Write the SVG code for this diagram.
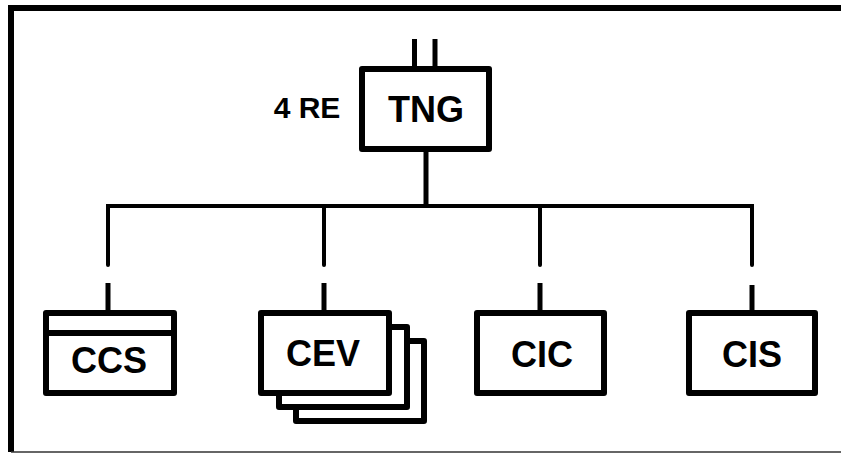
<svg xmlns="http://www.w3.org/2000/svg" width="841" height="455" viewBox="0 0 841 455">
<style>
.box{fill:#fff;stroke:#000;stroke-width:6;stroke-linejoin:round}
.lbl{font-family:"Liberation Sans",Arial,sans-serif;font-weight:bold;font-size:36px;fill:#000;text-anchor:middle}
.wire{stroke:#000;stroke-width:4;stroke-linecap:round;fill:none}
.stub{stroke:#000;stroke-width:5;fill:none}
</style>
<rect x="0" y="0" width="841" height="455" fill="#fff"/>
<g id="frame">
<line x1="8" y1="8" x2="841" y2="8" stroke="#000" stroke-width="6"/>
<line x1="11" y1="5" x2="11" y2="452" stroke="#000" stroke-width="6"/>
<line x1="11" y1="452" x2="841" y2="452" stroke="#333" stroke-width="1.5"/>
</g>
<g id="connectors">
<line class="stub" x1="414.5" y1="39" x2="414.5" y2="67"/>
<line class="stub" x1="435" y1="39" x2="435" y2="67"/>
<line class="stub" x1="426" y1="151" x2="426" y2="206"/>
<polyline class="wire" points="108,265 108,206 752,206 752,265"/>
<line class="wire" x1="324" y1="206" x2="324" y2="265"/>
<line class="wire" x1="540" y1="206" x2="540" y2="265"/>
<line class="stub" x1="108" y1="283" x2="108" y2="312"/>
<line class="stub" x1="324" y1="283" x2="324" y2="312"/>
<line class="stub" x1="540" y1="283" x2="540" y2="312"/>
<line class="stub" x1="752" y1="285" x2="752" y2="312"/>
</g>
<g id="tng">
<rect class="box" x="362" y="69" width="127" height="80"/>
<text class="lbl" x="426" y="122">TNG</text>
<text class="lbl" x="307" y="118" style="font-size:30px">4 RE</text>
</g>
<g id="ccs">
<rect class="box" x="46" y="313" width="128" height="80"/>
<line x1="46" y1="333" x2="174" y2="333" stroke="#000" stroke-width="6"/>
<text class="lbl" x="109" y="373">CCS</text>
</g>
<g id="cev">
<rect class="box" x="296" y="341" width="128" height="80"/>
<rect class="box" x="279" y="327" width="128" height="80"/>
<rect class="box" x="261" y="313" width="128" height="80"/>
<text class="lbl" x="323" y="366">CEV</text>
</g>
<g id="cic">
<rect class="box" x="477" y="313" width="127" height="80"/>
<text class="lbl" x="542" y="367">CIC</text>
</g>
<g id="cis">
<rect class="box" x="689" y="313" width="126" height="80"/>
<text class="lbl" x="752" y="367">CIS</text>
</g>
</svg>
